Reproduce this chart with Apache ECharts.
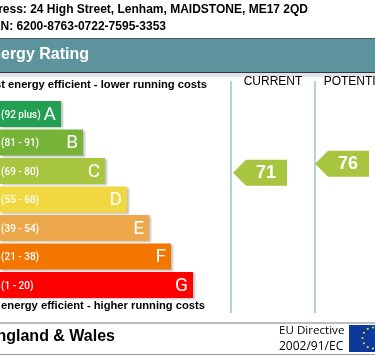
<!DOCTYPE html>
<html>
<head>
<meta charset="utf-8">
<style>
  html, body { margin: 0; padding: 0; background: #fff; overflow: hidden; }
  #chart { width: 375px; height: 358px; }
</style>
<script src="https://cdn.jsdelivr.net/npm/echarts@6/dist/echarts.min.js"></script>
</head>
<body>
<div id="chart"></div>
<script>
const bands = ['A', 'B', 'C', 'D', 'E', 'F', 'G']
const ranges = ['(92 plus)', '(81 - 91)', '(69 - 80)', '(55 - 68)', '(39 - 54)', '(21 - 38)', '(1 - 20)']
const barLengths = [61, 83, 105, 127, 149, 171, 193]
const bandColors = ['#239f52', '#77b336', '#a8c540', '#f1d840', '#eca84a', '#f27600', '#fe0000']
const columns = ['CURRENT', 'POTENTIAL']
const ratings = [71, 76]

const sans = '"Liberation Sans", Arial, sans-serif'
const chart = echarts.init(document.getElementById('chart'))

function text(str, x, y, align, font, fill) {
  return { type: 'text', x: x, y: y, silent: true, style: { text: str, textAlign: align, textVerticalAlign: 'middle', font: font, fill: fill || '#000' } }
}

function rect(x, y, w, h, fill) {
  return { type: 'rect', silent: true, shape: { x: x, y: y, width: w, height: h }, style: { fill: fill } }
}

// EU flag stars
const stars = []
for (let i = 0; i < 12; i++) {
  const a = i * Math.PI / 6
  stars.push({
    type: 'circle', silent: true,
    shape: { cx: 373 + 10.5 * Math.sin(a), cy: 338 - 10.5 * Math.cos(a), r: 1.1 },
    style: { fill: '#f4d21f' }
  })
}

const option = {
  animation: false,
  backgroundColor: '#fff',
  grid: [
    { left: 0, right: 0, top: 99.75, height: 199.5 },
    // the page cuts the potential column off, so one column is 84px of this 144px grid
    { left: 231, right: 0, top: 81, height: 232 },
    { left: 233, right: 0, top: 81, height: 232 }
  ],
  xAxis: [
    { gridIndex: 0, type: 'value', min: 0, max: 375, show: false },
    {
      gridIndex: 1, type: 'value', min: 0, max: 144 / 84, interval: 1,
      axisLine: { show: false },
      axisTick: { show: false },
      axisLabel: { show: false },
      splitLine: { show: true, showMinLine: true, showMaxLine: false, lineStyle: { color: '#b4d0d8', width: 2 } }
    },
    { gridIndex: 2, type: 'value', min: 0, max: 142 / 82, show: false }
  ],
  yAxis: [
    { gridIndex: 0, type: 'category', data: bands, inverse: true, show: false },
    { gridIndex: 1, type: 'value', min: 0, max: 1, show: false, splitLine: { show: false } },
    { gridIndex: 2, type: 'value', min: -7, max: 122, show: false, splitLine: { show: false } }
  ],
  series: [
    {
      type: 'bar',
      xAxisIndex: 0,
      yAxisIndex: 0,
      barWidth: 26,
      barGap: '-100%',
      data: barLengths.map((v, i) => ({ value: v, itemStyle: { color: bandColors[i] } })),
      itemStyle: { shadowColor: 'rgba(0,0,0,0.25)', shadowBlur: 2, shadowOffsetX: 2, shadowOffsetY: 1 },
      label: {
        show: true, position: 'insideRight', distance: 5, offset: [0, 1], color: '#fff',
        fontFamily: 'Roboto', fontSize: 19,
        formatter: p => bands[p.dataIndex]
      }
    },
    {
      type: 'bar',
      xAxisIndex: 0,
      yAxisIndex: 0,
      barWidth: 26,
      barGap: '-100%',
      data: barLengths,
      itemStyle: { color: 'transparent' },
      label: {
        show: true, position: 'insideLeft', distance: 1, offset: [0, 1], color: '#fff',
        fontFamily: 'Roboto', fontWeight: 500, fontSize: 10,
        formatter: p => ranges[p.dataIndex]
      }
    },
    {
      type: 'custom',
      xAxisIndex: 1,
      yAxisIndex: 1,
      clip: false,
      data: columns.map((c, i) => [i + 0.5, 1]),
      renderItem: (params, api) => {
        const c = api.coord([api.value(0), api.value(1)])
        return {
          type: 'text', x: c[0], y: c[1] + 1,
          style: { text: columns[params.dataIndex], textAlign: 'center', textVerticalAlign: 'middle', font: '12px ' + sans, fill: '#000' }
        }
      }
    },
    {
      type: 'custom',
      xAxisIndex: 2,
      yAxisIndex: 2,
      clip: false,
      data: ratings.map((v, i) => [i + 0.5, v]),
      renderItem: (params, api) => {
        const c = api.coord([api.value(0), api.value(1)])
        const l = c[0] - 41
        return {
          type: 'group',
          children: [
            {
              type: 'polygon',
              shape: { points: [[l, c[1]], [l + 13, c[1] - 13], [l + 54, c[1] - 13], [l + 54, c[1] + 13], [l + 13, c[1] + 13]] },
              style: { fill: '#a8c540' }
            },
            {
              type: 'text', x: l + 33, y: c[1],
              style: { text: String(ratings[params.dataIndex]), textAlign: 'center', textVerticalAlign: 'middle', font: 'bold 18px ' + sans, fill: '#fff' }
            }
          ]
        }
      }
    }
  ],
  graphic: [
    text('Address: 24 High Street, Lenham, MAIDSTONE, ME17 2QD', 308, 10, 'right', 'bold 12px ' + sans),
    text('RRN: 6200-8763-0722-7595-3353', 166, 27, 'right', 'bold 12px ' + sans),
    rect(0, 38, 375, 35, '#5c939d'),
    rect(0, 38, 375, 1, '#4a5a60'),
    rect(0, 72, 375, 1, '#2f3a3e'),
    rect(0, 73, 375, 4, '#e3e3e3'),
    text('Energy Rating', 89, 55, 'right', 'bold 16px ' + sans, '#fff'),
    text('Most energy efficient - lower running costs', 207, 85, 'right', 'bold 11.2px ' + sans),
    text('Not energy efficient - higher running costs', 205, 306, 'right', 'bold 11.2px ' + sans),
    rect(0, 322, 375, 2, '#bdbdbd'),
    text('England & Wales', 115, 337, 'right', 'bold 16px ' + sans),
    text('EU Directive', 279, 331, 'left', '11.6px "Open Sans"'),
    text('2002/91/EC', 279, 347, 'left', '12px "Open Sans"'),
    rect(349, 325, 26, 27, '#0b3a9c'),
    ...stars,
    rect(0, 354, 375, 1, '#999999')
  ]
}

chart.setOption(option)
</script>
</body>
</html>
